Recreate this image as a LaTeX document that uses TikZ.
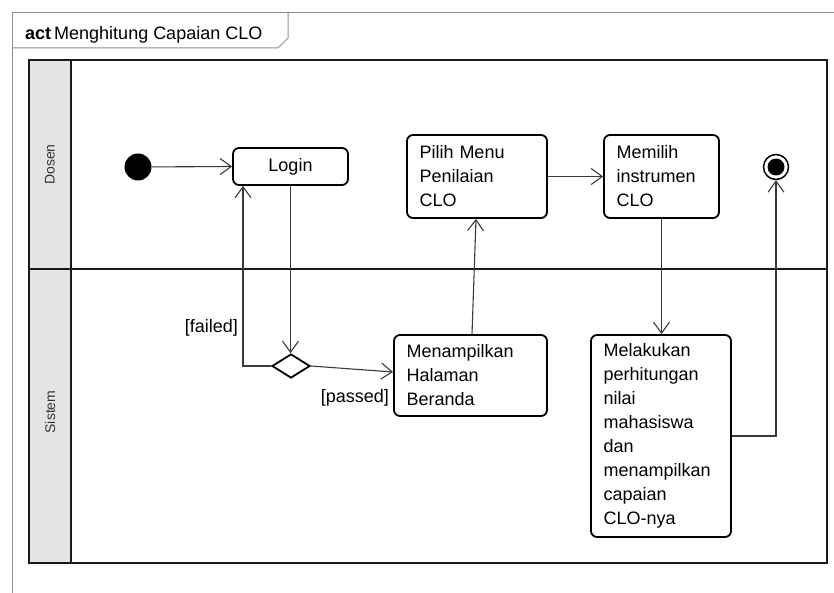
\documentclass[tikz,border=0pt]{standalone}
\usepackage{fontspec}
\setmainfont{Liberation Sans}
\usetikzlibrary{arrows.meta,shapes.geometric}

\definecolor{framegray}{HTML}{8E8E8E}
\definecolor{lanefill}{HTML}{E4E4E4}
\definecolor{flowgray}{HTML}{3A3A3A}

\tikzset{
  action/.style={draw=black, line width=1.8pt, rounded corners=6pt, fill=white,
    inner xsep=12.5pt, inner ysep=0pt, align=left,
    font=\fontsize{18}{24}\selectfont},
  decision/.style={draw=black, line width=1.8pt, diamond, inner sep=0pt,
    minimum width=38pt, minimum height=24pt, fill=white},
  flow/.style={draw=flowgray, line width=1.1pt,
    -{Straight Barb[length=11pt,width=16pt,line width=1.1pt]}},
  guard/.style={font=\fontsize{18}{24}\selectfont, inner sep=0pt},
  lanelabel/.style={rotate=90, font=\fontsize{14}{16}\selectfont, text=black!80},
  lane/.style={draw=black!90, line width=1.8pt},
}

\begin{document}
\begin{tikzpicture}[x=1pt, y=-1pt]
  \useasboundingbox (0,0) rectangle (834,593);

  % activity frame with its name tab
  \draw[framegray, line width=1pt] (12,600) -- (12,13) -- (840,13);
  \draw[framegray, line width=1pt] (12,48) -- (278,48) -- (288,38) -- (288,13);
  \node[anchor=base west, inner sep=0pt, font=\fontsize{18}{20}\selectfont]
    (title) at (25,40) {\textbf{act}\hspace{3pt}Menghitung Capaian CLO};

  % swimlanes
  \fill[lanefill] (29,60) rectangle (71,563);
  \draw[lane] (29,60) rectangle (827,563);
  \draw[lane] (71,60) -- (71,563);
  \draw[lane] (29,269) -- (827,269);
  \node[lanelabel] (dosen) at (50,164.5) {Dosen};
  \node[lanelabel] (sistem) at (50,412) {Sistem};

  % start and end
  \node[circle, fill=black, minimum size=27pt, inner sep=0pt] (start) at (138,167) {};
  \node[circle, draw=black, line width=1.5pt, fill=white, minimum size=25pt, inner sep=0pt] (final) at (776,167) {};
  \fill[black] (final.center) circle (8.5pt);

  % actions
  \node[action, minimum width=115pt, minimum height=37pt, align=center] (login) at (290.5,166.5) {Login};
  \node[action, minimum width=140pt, minimum height=83pt, text width=115pt] (pilih) at (477,176.5)
    {Pilih Menu\\Penilaian\\CLO};
  \node[action, minimum width=115pt, minimum height=83pt, text width=90pt] (instr) at (661.5,176.5)
    {Memilih\\instrumen\\CLO};
  \node[decision] (dec) at (291,366) {};
  \node[action, minimum width=153pt, minimum height=81pt, text width=128pt] (beranda) at (470.5,375.5)
    {Menampilkan\\Halaman\\Beranda};
  \node[action, minimum width=140pt, minimum height=202pt, text width=115pt] (hitung) at (661,436)
    {Melakukan\\perhitungan\\nilai\\mahasiswa\\dan\\menampilkan\\capaian\\CLO-nya};

  % control flow
  \draw[flow] (start) -- (login.west);
  \draw[flow] (login.south) -- (login.south |- dec.north);
  \draw[flow] (dec.west) -| ([xshift=-47.5pt]login.south);
  \draw[flow] (dec.east) -- ([yshift=3.5pt]beranda.west);
  \draw[flow] ([xshift=1.5pt]beranda.north) -- ([xshift=-1pt]pilih.south);
  \draw[flow] (pilih.east) -- (instr.west);
  \draw[flow] (instr.south) -- (instr.south |- hitung.north);
  \draw[flow] (hitung.east) -| (final.south);

  % guards
  \node[guard, anchor=east] (failed) at (238,328) {[failed]};
  \node[guard, anchor=east] (passed) at (389,398) {[passed]};
\end{tikzpicture}
\end{document}
